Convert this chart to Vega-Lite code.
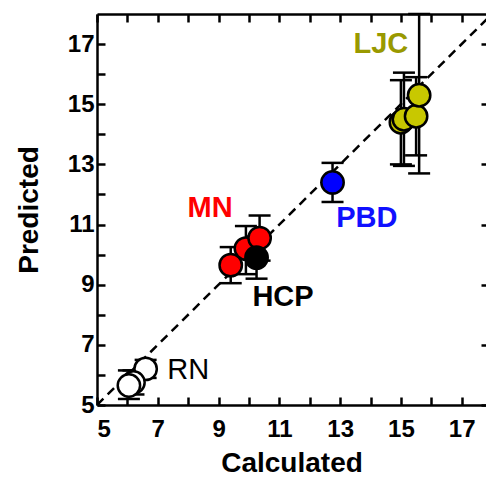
{
  "$schema": "https://vega.github.io/schema/vega-lite/v6.json",
  "width": 389,
  "height": 391,
  "autosize": {"type": "none"},
  "padding": {"left": 97, "top": 14, "right": 0, "bottom": 77},
  "background": "white",
  "config": {
    "view": {"stroke": null},
    "font": "Liberation Sans",
    "axis": {
      "domainColor": "black",
      "domainWidth": 2.5,
      "tickColor": "black",
      "tickWidth": 2.5,
      "grid": false,
      "labelFont": "Liberation Sans",
      "labelFontWeight": "bold",
      "labelFontSize": 24,
      "labelColor": "black",
      "titleFont": "Liberation Sans",
      "titleFontWeight": "bold",
      "titleFontSize": 28,
      "titleColor": "black"
    }
  },
  "datasets": {
    "pts": [
      {"group": "RN", "x": 6.6, "y": 6.2, "lo": 5.9, "hi": 6.5},
      {"group": "RN", "x": 6.2, "y": 5.75, "lo": 5.35, "hi": 6.15},
      {"group": "RN", "x": 6.05, "y": 5.65, "lo": 5.2, "hi": 6.15},
      {"group": "MN", "x": 9.4, "y": 9.65, "lo": 9.05, "hi": 10.25},
      {"group": "MN", "x": 9.9, "y": 10.2, "lo": 9.35, "hi": 10.95},
      {"group": "MN", "x": 10.35, "y": 10.55, "lo": 9.8, "hi": 11.3},
      {"group": "HCP", "x": 10.25, "y": 9.9, "lo": 9.2, "hi": 10.6},
      {"group": "PBD", "x": 12.75, "y": 12.4, "lo": 11.75, "hi": 13.05},
      {"group": "LJC", "x": 15.0, "y": 14.4, "lo": 13.0, "hi": 15.8},
      {"group": "LJC", "x": 15.1, "y": 14.5, "lo": 12.95, "hi": 16.05},
      {"group": "LJC", "x": 15.5, "y": 14.6, "lo": 13.3, "hi": 15.9},
      {"group": "LJC", "x": 15.6, "y": 15.3, "lo": 12.7, "hi": 18.0}
    ],
    "labels": [
      {"text": "LJC", "x": 14.34, "y": 16.99, "color": "LJC"},
      {"text": "MN", "x": 8.72, "y": 11.54, "color": "MN"},
      {"text": "PBD", "x": 13.88, "y": 11.21, "color": "PBD"},
      {"text": "HCP", "x": 11.12, "y": 8.59, "color": "HCP"}
    ],
    "rnlabel": [
      {"text": "RN", "x": 8.0, "y": 6.16}
    ],
    "diag": [{"d": 5}, {"d": 18}]
  },
  "layer": [
    {
      "data": {"name": "diag"},
      "mark": {"type": "line", "color": "black", "strokeWidth": 2.5, "strokeDash": [9, 6], "clip": true},
      "encoding": {
        "x": {"field": "d", "type": "quantitative", "scale": {"domain": [5, 17.8], "nice": false, "zero": false},
          "axis": {"orient": "top", "title": null, "labels": false, "values": [5,6,7,8,9,10,11,12,13,14,15,16,17], "tickSize": -8}},
        "y": {"field": "d", "type": "quantitative", "scale": {"domain": [5, 18], "nice": false, "zero": false},
          "axis": {"orient": "right", "title": null, "labels": false, "domain": false, "values": [5,7,9,11,13,15,17], "tickSize": -5}}
      }
    },
    {
      "data": {"name": "pts"},
      "mark": {"type": "rule", "color": "black", "strokeWidth": 2.5, "opacity": 1},
      "encoding": {
        "x": {"field": "x", "type": "quantitative", "scale": {"domain": [5, 17.8], "nice": false, "zero": false},
          "axis": {"orient": "bottom", "title": "Calculated", "values": [5,6,7,8,9,10,11,12,13,14,15,16,17], "tickSize": -8, "labelPadding": 20, "labelExpr": "datum.value % 2 == 1 ? datum.label : ''", "titlePadding": 8}},
        "y": {"field": "lo", "type": "quantitative", "scale": {"domain": [5, 18], "nice": false, "zero": false},
          "axis": {"orient": "left", "title": "Predicted", "values": [5,6,7,8,9,10,11,12,13,14,15,16,17], "tickSize": -8, "labelPadding": 11, "labelExpr": "datum.value % 2 == 1 ? datum.label : ''", "titlePadding": 24}},
        "y2": {"field": "hi"}
      }
    },
    {
      "data": {"name": "pts"},
      "mark": {"type": "tick", "orient": "horizontal", "color": "black", "size": 22, "thickness": 2.5, "opacity": 1},
      "encoding": {
        "x": {"field": "x", "type": "quantitative", "axis": null},
        "y": {"field": "lo", "type": "quantitative", "axis": null}
      }
    },
    {
      "data": {"name": "pts"},
      "mark": {"type": "tick", "orient": "horizontal", "color": "black", "size": 22, "thickness": 2.5, "opacity": 1},
      "encoding": {
        "x": {"field": "x", "type": "quantitative", "axis": null},
        "y": {"field": "hi", "type": "quantitative", "axis": null}
      }
    },
    {
      "data": {"name": "pts"},
      "mark": {"type": "point", "shape": "circle", "filled": false, "size": 500, "stroke": "black", "strokeWidth": 2.5, "opacity": 1, "fillOpacity": 1},
      "encoding": {
        "x": {"field": "x", "type": "quantitative", "axis": null},
        "y": {"field": "y", "type": "quantitative", "axis": null},
        "fill": {"field": "group", "type": "nominal", "legend": null,
          "scale": {"domain": ["RN", "MN", "HCP", "PBD", "LJC"], "range": ["#ffffff", "#ff0000", "#000000", "#0000ff", "#c8c800"]}}
      }
    },
    {
      "data": {"name": "labels"},
      "mark": {"type": "text", "fontSize": 29, "fontWeight": "bold", "align": "center", "baseline": "middle", "font": "Liberation Sans"},
      "encoding": {
        "x": {"field": "x", "type": "quantitative", "axis": null},
        "y": {"field": "y", "type": "quantitative", "axis": null},
        "text": {"field": "text"},
        "color": {"field": "color", "type": "nominal", "legend": null,
          "scale": {"domain": ["MN", "HCP", "PBD", "LJC"], "range": ["#ff0000", "#000000", "#1010ff", "#999900"]}}
      }
    },
    {
      "data": {"name": "rnlabel"},
      "mark": {"type": "text", "fontSize": 29, "fontWeight": "normal", "align": "center", "baseline": "middle", "font": "Liberation Sans", "color": "black"},
      "encoding": {
        "x": {"field": "x", "type": "quantitative", "axis": null},
        "y": {"field": "y", "type": "quantitative", "axis": null},
        "text": {"field": "text"}
      }
    }
  ],
  "resolve": {"axis": {"x": "independent", "y": "independent"}}
}
